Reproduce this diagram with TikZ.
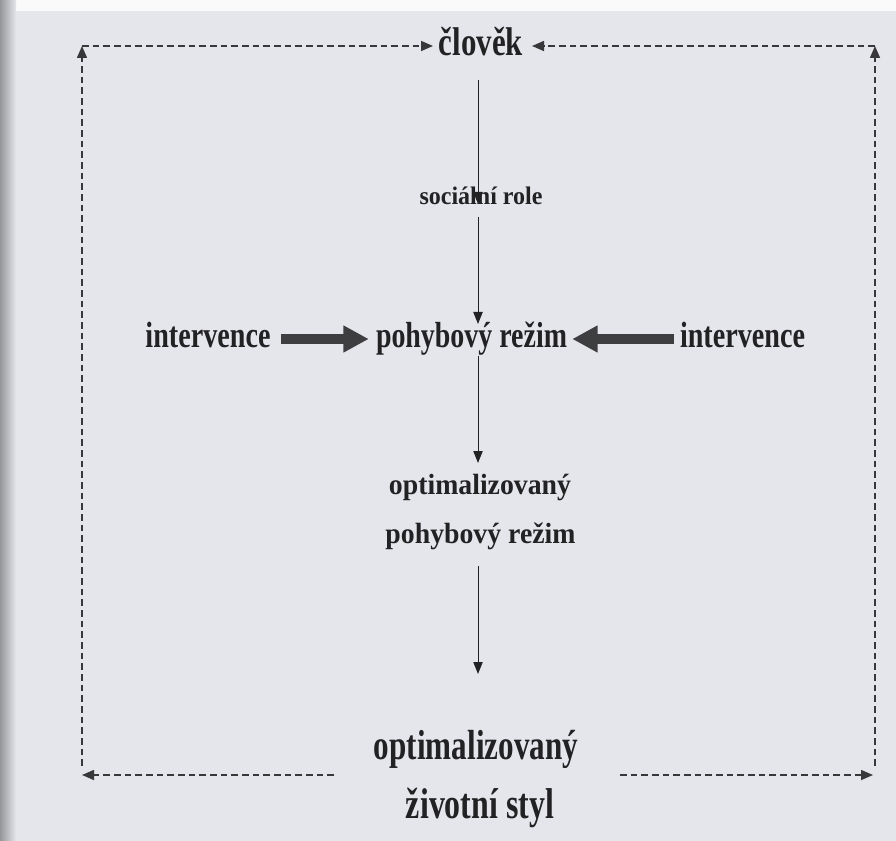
\documentclass[tikz,border=0pt]{standalone}
\usepackage{fontspec}
\usepackage{graphicx}
\setmainfont{Liberation Serif}
\newfontfamily\tfont[FakeStretch=0.77]{Liberation Serif}
\newfontfamily\tnfont[FakeStretch=0.74]{Liberation Serif}
\newfontfamily\dfont[FakeStretch=0.95]{Liberation Serif}
\usetikzlibrary{arrows.meta}
\definecolor{bgc}{RGB}{229,230,236}
\definecolor{ink}{RGB}{34,34,36}
\definecolor{thick}{RGB}{62,62,64}
\newcommand{\txtT}[2]{\resizebox{#1}{!}{\tfont\bfseries #2}}
\newcommand{\txtN}[2]{\resizebox{#1}{!}{\tnfont\bfseries #2}}
\newcommand{\txtD}[2]{\resizebox{#1}{!}{\dfont\bfseries #2}}
\begin{document}
\begin{tikzpicture}[x=0.75pt,y=-0.75pt,
  lbl/.style={anchor=base,inner sep=0pt,text=ink},
  dashconn/.style={draw=ink!90,line width=1.15pt,dash pattern=on 5pt off 3pt,-{Triangle[length=9pt,width=7.5pt]}},
  solidconn/.style={draw=ink,line width=0.75pt,-{Triangle[length=9pt,width=7pt]}},
  thickconn/.style={draw=thick,line width=7pt,-{Triangle[length=19pt,width=19pt]}}]
\useasboundingbox (0,0) rectangle (896,841);
\fill[bgc] (0,0) rectangle (896,841);
\fill[white!80!bgc] (14,0) rectangle (896,11);
\shade[left color=black!35!bgc,right color=bgc] (0,0) rectangle (16,841);

% texts
\node[lbl] (clovek) at (481,56) {\txtT{63pt}{člověk}};
\node[lbl] (soc) at (481,205) {\txtD{92.25pt}{sociální role}};
\node[lbl] (intL) at (208,348) {\txtT{93.75pt}{intervence}};
\node[lbl] (pohyb) at (471.5,348) {\txtT{143.25pt}{pohybový režim}};
\node[lbl] (intR) at (742.5,348) {\txtT{93.75pt}{intervence}};
\node[lbl] (optpoh1) at (480,494) {\txtD{136.5pt}{optimalizovaný}};
\node[lbl] (optpoh2) at (480.5,543) {\txtD{142.5pt}{pohybový režim}};
\node[lbl] (optziv1) at (476,759) {\txtN{153pt}{optimalizovaný}};
\node[lbl] (optziv2) at (480,818) {\txtN{111pt}{životní styl}};

% corners and free ends
\coordinate (TL) at (82,46);
\coordinate (TR) at (875,46);
\coordinate (BLv) at (82,766);
\coordinate (BRv) at (875,766);
\coordinate (BL) at (82,775);
\coordinate (BR) at (873,775);
\coordinate (BLs) at (334,775);
\coordinate (BRs) at (620,775);
\coordinate (cTopL) at (433,46);
\coordinate (cTopR) at (532,46);

% feedback loop (dashed)
\draw[dashconn] (BLs) -- (BL);
\draw[dashconn] (BLv) -- (TL);
\draw[dashconn] (TL) -- (cTopL);
\draw[dashconn] (BRs) -- (BR);
\draw[dashconn] (BRv) -- (TR);
\draw[dashconn] (TR) -- (cTopR);

% central chain
\coordinate (s1) at (478,80);
\coordinate (e1) at (478,204);
\coordinate (s2) at (478,217);
\coordinate (e2) at (478,324);
\coordinate (s3) at (478,356);
\coordinate (e3) at (478,463);
\coordinate (s4) at (478,566);
\coordinate (e4) at (478,674);
\draw[solidconn] (s1) -- (e1);
\draw[solidconn] (s2) -- (e2);
\draw[solidconn] (s3) -- (e3);
\draw[solidconn] (s4) -- (e4);

% interventions
\draw[thickconn,shorten <=7.5pt,shorten >=5.25pt] (intL.east |- 0,339) -- (pohyb.west |- 0,339);
\draw[thickconn,shorten <=4.5pt,shorten >=3.75pt] (intR.west |- 0,339) -- (pohyb.east |- 0,339);
\end{tikzpicture}
\end{document}
